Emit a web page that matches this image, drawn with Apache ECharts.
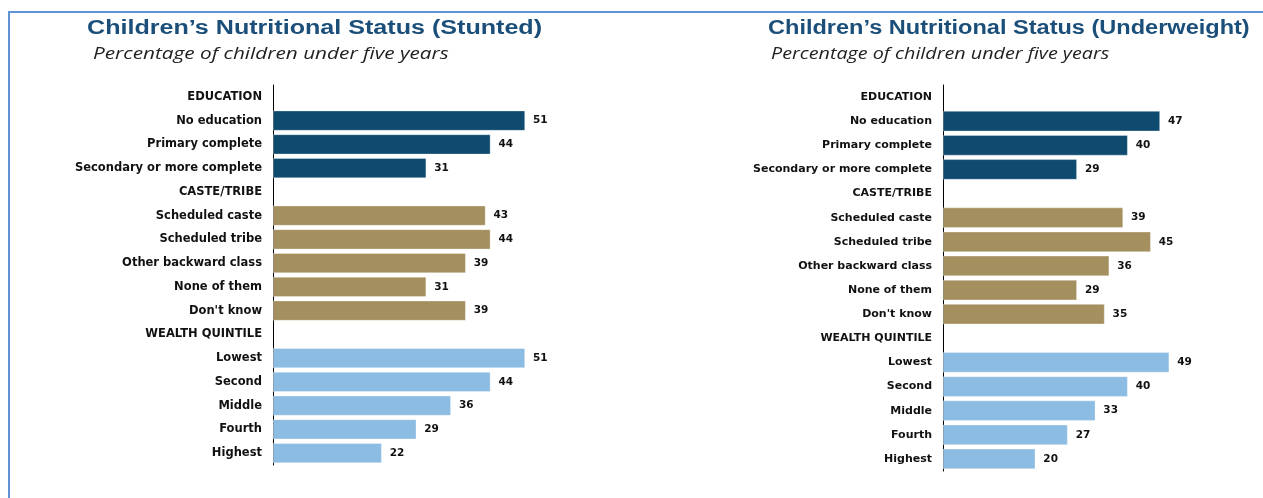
<!DOCTYPE html>
<html>
<head>
<meta charset="utf-8">
<script src="https://cdn.jsdelivr.net/npm/echarts@6/dist/echarts.min.js"></script>
<style>
  html, body { margin: 0; padding: 0; background: #fff; overflow: hidden; }
  #frame { position: absolute; left: 8px; top: 11px; right: -4px; bottom: -4px;
           border-left: 2px solid #5f93d3; border-top: 2px solid #5f93d3; }
  #chart { position: absolute; left: 0; top: 0; width: 1263px; height: 498px; }
</style>
</head>
<body>
<div id="frame"></div>
<div id="chart"></div>
<script>
// Row labels, top to bottom; group headers carry no value
const categories = [
  'EDUCATION', 'No education', 'Primary complete', 'Secondary or more complete',
  'CASTE/TRIBE', 'Scheduled caste', 'Scheduled tribe', 'Other backward class', 'None of them', "Don't know",
  'WEALTH QUINTILE', 'Lowest', 'Second', 'Middle', 'Fourth', 'Highest'
];
// Group each row belongs to (0 education, 1 caste/tribe, 2 wealth)
const rowGroups = [0, 0, 0, 0, 1, 1, 1, 1, 1, 1, 2, 2, 2, 2, 2, 2];

const stunted     = [null, 51, 44, 31, null, 43, 44, 39, 31, 39, null, 51, 44, 36, 29, 22];
const underweight = [null, 47, 40, 29, null, 39, 45, 36, 29, 35, null, 49, 40, 33, 27, 20];

const titles = [
  'Children\u2019s Nutritional Status (Stunted)',
  'Children\u2019s Nutritional Status (Underweight)'
];
const subtitle = 'Percentage of children under five years';

const groupColors = ['#0f4a6f', '#a48f5f', '#8dbce3'];

const boldFace = 'DejaVu Sans, Liberation Sans, Arial, sans-serif';

function barData(values) {
  return values.map((v, i) => ({
    value: v,
    itemStyle: { color: groupColors[rowGroups[i]], borderColor: 'rgba(255,255,255,0.55)', borderWidth: 0.6 }
  }));
}

function yAxis(gridIndex, size) {
  return {
    type: 'category', gridIndex, data: categories, inverse: true,
    axisLine: { show: true, lineStyle: { color: '#000', width: 1 } },
    axisTick: { show: false },
    axisLabel: { margin: 11, fontFamily: boldFace, fontWeight: 'bold', fontSize: size, color: '#111' },
    splitLine: { show: false }
  };
}

function xAxis(gridIndex) {
  return { type: 'value', gridIndex, min: 0, max: 60, show: false, splitLine: { show: false } };
}

function series(values, idx) {
  return {
    type: 'bar', xAxisIndex: idx, yAxisIndex: idx,
    data: barData(values), barCategoryGap: '16%',
    label: { show: true, position: 'right', distance: 8, fontFamily: boldFace, fontWeight: 'bold', fontSize: 10.5, color: '#111' },
    animation: false
  };
}

// Headings drawn as graphic text so they can be widened like the printed fact sheet
function heading(text, x, y, sx) {
  return {
    type: 'text', x, y, scaleX: sx, silent: true,
    style: { text, font: 'bold 20px "Liberation Sans", Arial, sans-serif', fill: '#1b4f7a', textVerticalAlign: 'top' }
  };
}
function subheading(text, x, y, sx) {
  return {
    type: 'text', x, y, scaleX: sx, silent: true,
    style: { text, font: 'italic 17px "Open Sans", sans-serif', fill: '#222', textVerticalAlign: 'top' }
  };
}

const chart = echarts.init(document.getElementById('chart'), null, { renderer: 'canvas' });
chart.setOption({
  backgroundColor: 'transparent',
  animation: false,
  graphic: [
    heading(titles[0], 87, 18, 1.255),
    subheading(subtitle, 93, 46, 1.22),
    heading(titles[1], 768, 18, 1.177),
    subheading(subtitle, 771, 46, 1.16)
  ],
  grid: [
    { left: 273, top: 85, width: 296.5, height: 380 },
    { left: 943, top: 85, width: 277, height: 386 }
  ],
  xAxis: [xAxis(0), xAxis(1)],
  yAxis: [yAxis(0, 11.5), yAxis(1, 11)],
  series: [series(stunted, 0), series(underweight, 1)]
});
</script>
</body>
</html>
